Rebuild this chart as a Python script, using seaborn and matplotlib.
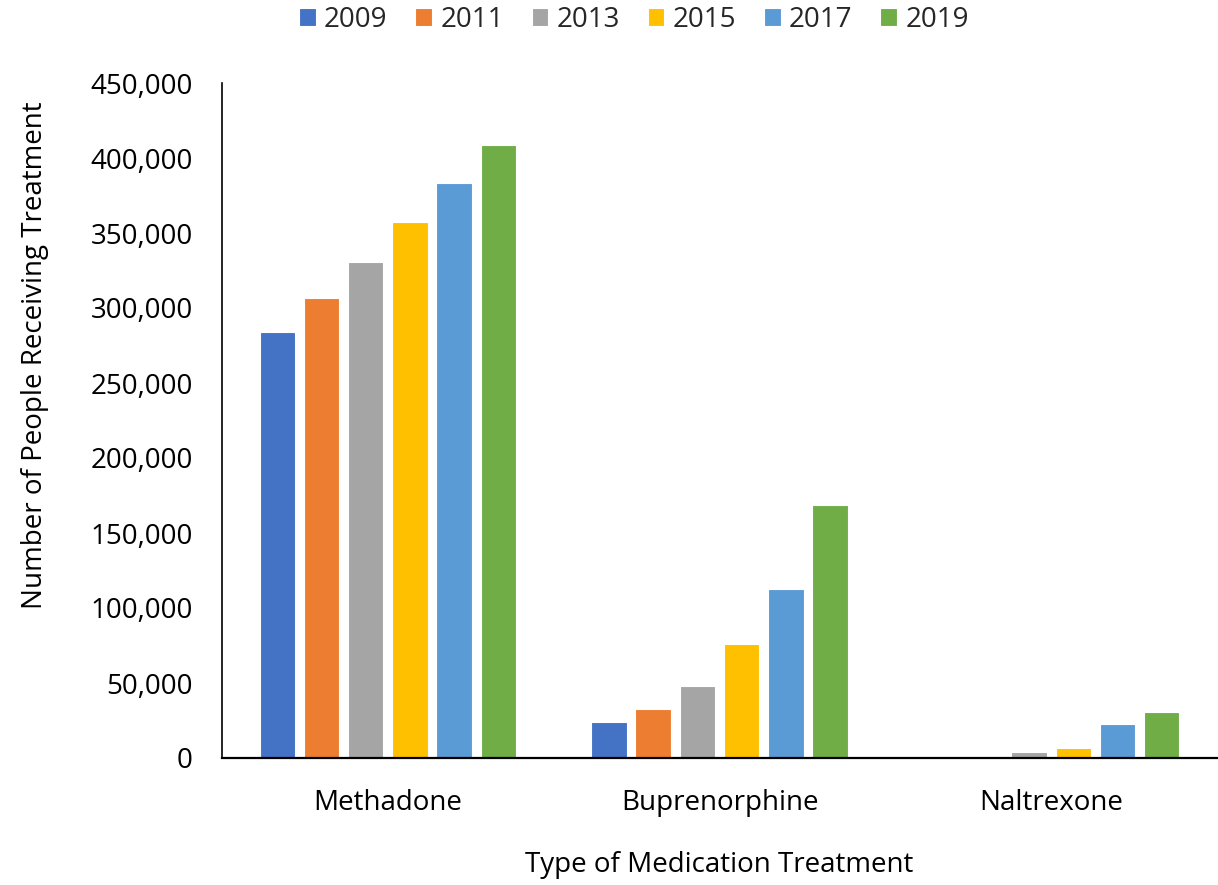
import matplotlib
matplotlib.use("Agg")
import matplotlib.pyplot as plt
import matplotlib.ticker as mticker
import seaborn as sns
import pandas as pd

# Medication types and survey years
medications = ["Methadone", "Buprenorphine", "Naltrexone"]
years = ["2009", "2011", "2013", "2015", "2017", "2019"]

# People receiving each medication, by year
methadone = [283800, 306700, 330700, 357300, 383300, 409000]
buprenorphine = [24000, 32400, 48000, 75800, 112400, 168700]
naltrexone = [0, 0, 3800, 6900, 22900, 30500]

colors = ["#4472C4", "#ED7D31", "#A5A5A5", "#FFC000", "#5B9BD5", "#70AD47"]

rows = []
for med, vals in zip(medications, [methadone, buprenorphine, naltrexone]):
    for yr, v in zip(years, vals):
        rows.append({"Medication": med, "Year": yr, "People": v})
df = pd.DataFrame(rows)

sns.set_theme(style="white")
plt.rcParams["font.family"] = ["Open Sans", "DejaVu Sans"]

fig = plt.figure(figsize=(12.18, 8.85), dpi=100)
ax = fig.add_axes([222 / 1218, 1 - 758 / 885, 995 / 1218, (758 - 83) / 885])

sns.barplot(
    data=df, x="Medication", y="People", hue="Year",
    order=medications, hue_order=years, palette=colors, saturation=1,
    width=0.8, gap=0.2, edgecolor="white", linewidth=0.8,
    errorbar=None, ax=ax, legend=True,
)

ax.set_ylim(0, 450000)
ax.set_xlim(-0.5, 2.5)
ax.yaxis.set_major_locator(mticker.MultipleLocator(50000))
ax.yaxis.set_major_formatter(mticker.FuncFormatter(lambda v, p: f"{int(v):,}"))

for side in ["top", "right"]:
    ax.spines[side].set_visible(False)
ax.spines["left"].set_color("black")
ax.spines["left"].set_linewidth(1.2)
ax.spines["bottom"].set_color("black")
ax.spines["bottom"].set_linewidth(1.6)

ax.tick_params(axis="y", length=0, pad=21, labelsize=20, colors="black")
ax.tick_params(axis="x", length=0, pad=22, labelsize=20, colors="black")

ax.set_xlabel("Type of Medication Treatment", fontsize=20, color="black")
ax.xaxis.label.set_verticalalignment("center")
ax.xaxis.set_label_coords(0.5 - 0.0, (758 - 865) / 675)

ax.set_ylabel("Number of People Receiving Treatment", fontsize=20, color="black")
ax.yaxis.label.set_verticalalignment("center")
ax.yaxis.label.set_horizontalalignment("center")
ax.yaxis.set_label_coords((35 - 222) / 995, (758 - 355) / 675)

handles, labels = ax.get_legend_handles_labels()
ax.get_legend().remove()
fig.legend(
    handles, labels, loc="center", bbox_to_anchor=(634 / 1218, 1 - 20 / 885),
    ncol=6, frameon=False, fontsize=20, handlelength=0.6, handleheight=0.6,
    handletextpad=0.3, columnspacing=1.0,
)

fig.savefig("out.png", dpi=100, facecolor="white")
